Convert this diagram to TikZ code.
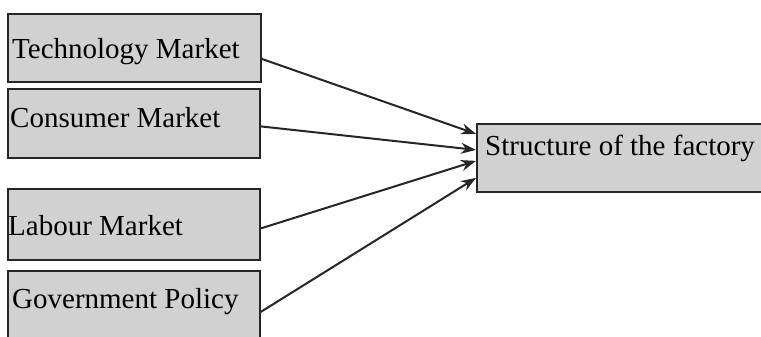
\documentclass[tikz,border=0pt]{standalone}
\usepackage{fontspec}
\setmainfont{Liberation Serif}
\usetikzlibrary{arrows.meta}
\begin{document}
\begin{tikzpicture}[x=1pt,y=-1pt,
  factor/.style={draw=black!85,line width=1.8pt,fill=black!18,inner sep=0pt,anchor=north west},
  lbl/.style={font=\fontsize{29}{30}\selectfont,text=black,inner sep=0pt,anchor=base west},
  link/.style={draw=black!85,line width=2pt,-{Stealth[length=15pt,width=11pt]}}]
\useasboundingbox (0,0) rectangle (761,337);
\clip (0,0) rectangle (761,337);
% input boxes
\node[factor,minimum width=253pt,minimum height=68pt] (tech) at (7,13) {};
\node[factor,minimum width=252pt,minimum height=69pt] (cons) at (7,88) {};
\node[factor,minimum width=252pt,minimum height=71pt] (lab) at (7,188) {};
\node[factor,minimum width=252pt,minimum height=72pt] (gov) at (7,270) {};
% outcome box
\node[factor,minimum width=300pt,minimum height=68pt] (fac) at (476,123) {};
% labels
\node[lbl] (techT) at (12,59) {Technology Market};
\node[lbl] (consT) at (10,128) {Consumer Market};
\node[lbl] (labT) at (8,235) {Labour Market};
\node[lbl] (govT) at (12,308) {Government Policy};
\node[lbl] (facT) at (485,155) {Structure of the factory};
% connectors
\draw[link] ([yshift=-11pt]tech.east) -- ([yshift=24pt]fac.west);
\draw[link] ([yshift=-3pt]cons.east) -- ([yshift=8pt]fac.west);
\draw[link] ([yshift=-4pt]lab.east) -- ([yshift=-3pt]fac.west);
\draw[link] ([yshift=-5pt]gov.east) -- ([yshift=-20pt]fac.west);
\end{tikzpicture}
\end{document}
